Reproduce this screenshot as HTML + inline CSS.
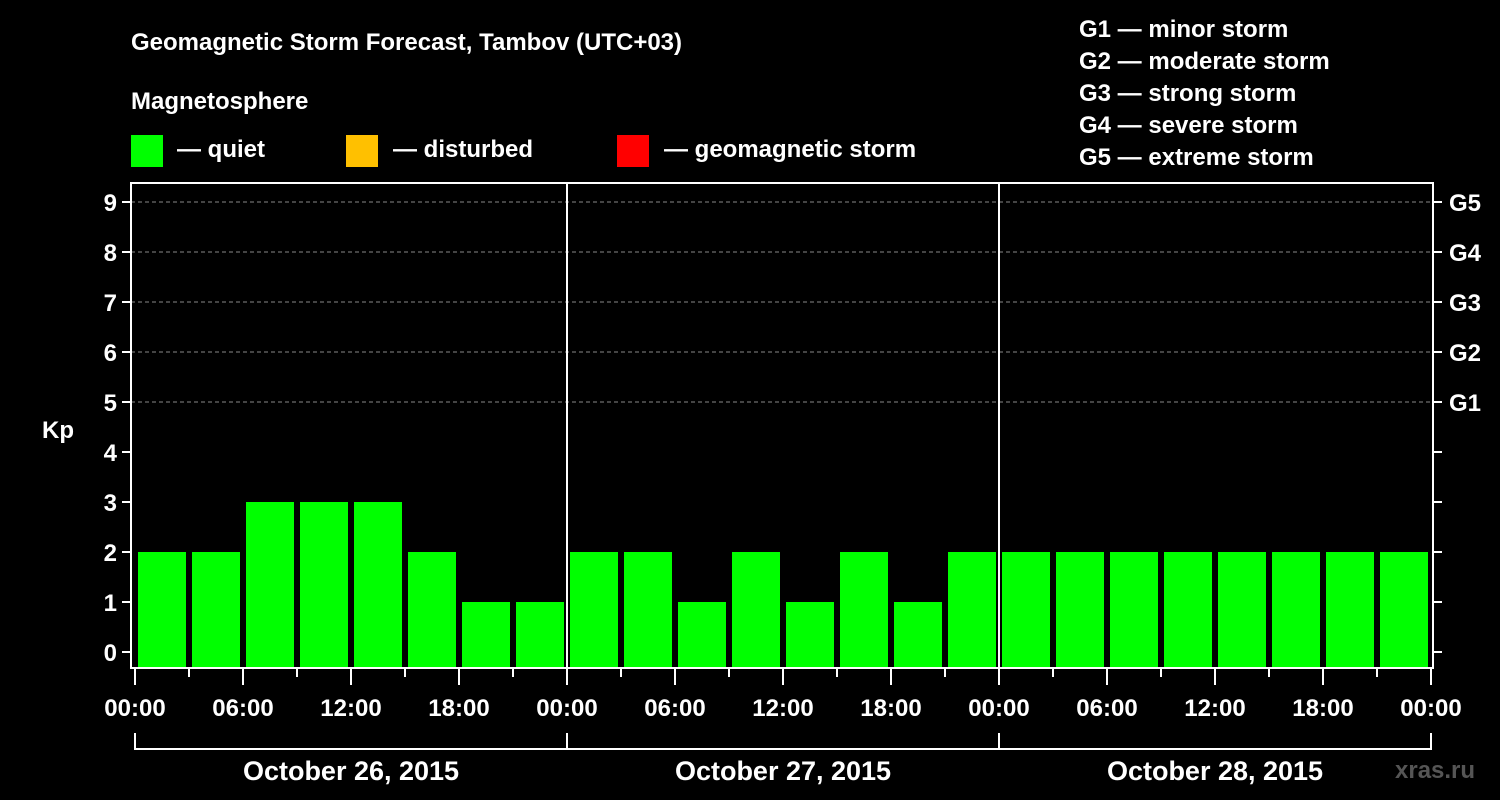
<!DOCTYPE html>
<html><head><meta charset="utf-8"><style>
html,body{margin:0;padding:0;background:#000;}
svg{display:block;font-family:"Liberation Sans",Arial,sans-serif;font-weight:bold;}
</style></head><body>
<svg id="chart" width="1500" height="800" viewBox="0 0 1500 800">
<rect width="1500" height="800" fill="#000"/>
<text x="131" y="50" fill="#fff" font-size="24">Geomagnetic Storm Forecast, Tambov (UTC+03)</text>
<text x="131" y="109" fill="#fff" font-size="24">Magnetosphere</text>
<g><rect x="131" y="135" width="32" height="32" fill="#00ff00"/><text x="177" y="157" fill="#fff" font-size="24">— quiet</text></g>
<g><rect x="346" y="135" width="32" height="32" fill="#ffc000"/><text x="393" y="157" fill="#fff" font-size="24">— disturbed</text></g>
<g><rect x="617" y="135" width="32" height="32" fill="#ff0000"/><text x="664" y="157" fill="#fff" font-size="24">— geomagnetic storm</text></g>
<g fill="#fff" font-size="24">
<text x="1079" y="37">G1 — minor storm</text>
<text x="1079" y="69">G2 — moderate storm</text>
<text x="1079" y="101">G3 — strong storm</text>
<text x="1079" y="133">G4 — severe storm</text>
<text x="1079" y="165">G5 — extreme storm</text>
</g>
<text x="42" y="438" fill="#fff" font-size="24">Kp</text>
<text x="1395" y="778" fill="#555" font-size="24">xras.ru</text>
<g id="grid"></g><g id="bars"></g><g id="axes"></g>
</svg>
<script>
const kpValues = [2,2,3,3,3,2,1,1, 2,2,1,2,1,2,1,2, 2,2,2,2,2,2,2,2];
const yTicks = [0,1,2,3,4,5,6,7,8,9];
const gLabels = ["G1","G2","G3","G4","G5"];
const hourLabels = ["00:00","06:00","12:00","18:00"];
const dayLabels = ["October 26, 2015","October 27, 2015","October 28, 2015"];

const NS="http://www.w3.org/2000/svg";
const X0=135, DAYW=432, HOURS=72;
const PL=131, PR=1433, PT=183, PB=668;
function xScale(h){return X0 + h*DAYW/24;}
function yScale(v){return 652 - v*50;}
function mk(tag,attrs,parent,txt){const e=document.createElementNS(NS,tag);for(const k in attrs)e.setAttribute(k,attrs[k]);if(txt!==undefined)e.textContent=txt;parent.appendChild(e);return e;}
const grid=document.getElementById('grid'), bars=document.getElementById('bars'), axes=document.getElementById('axes');

yTicks.forEach(v=>{
  if(v>=5){const l=mk('line',{x1:PL,x2:PR,y1:yScale(v),y2:yScale(v),stroke:'#888','stroke-width':1,'stroke-dasharray':'4,3'},grid);
  
  }
  const t=mk('line',{x1:PL-9,x2:PL,y1:yScale(v),y2:yScale(v),stroke:'#fff','stroke-width':2},axes);
  
  
  const tx=mk('text',{x:PL-14,y:yScale(v)+9,fill:'#fff','font-size':24,'text-anchor':'end'},axes,String(v));
  
  
  const rt=mk('line',{x1:PR,x2:PR+9,y1:yScale(v),y2:yScale(v),stroke:'#fff','stroke-width':2},axes);
  
  
  if(v>=5){const g=mk('text',{x:PR+16,y:yScale(v)+9,fill:'#fff','font-size':24},axes,gLabels[v-5]);
  
  }
});

kpValues.forEach((v,i)=>{
  const x0=xScale(i*3)+3, x1=xScale(i*3+3)-3;
  const r=mk('rect',{x:x0,y:yScale(v),width:x1-x0,height:PB-yScale(v),fill:v>=5?'#ff0000':(v>=4?'#ffc000':'#00ff00')},bars);
  
  
});

const frame=mk('rect',{x:PL,y:PT,width:PR-PL,height:PB-PT,fill:'none',stroke:'#fff','stroke-width':2},axes);


for(let d=1;d<3;d++){const l=mk('line',{x1:xScale(d*24),x2:xScale(d*24),y1:PT,y2:PB,stroke:'#fff','stroke-width':2},axes);
  
  }

for(let h=0;h<=HOURS;h+=3){
  const major=h%6===0;
  const t=mk('line',{x1:xScale(h),x2:xScale(h),y1:PB,y2:PB+(major?17:9),stroke:'#fff','stroke-width':2},axes);
  
  
  if(major){const tx=mk('text',{x:xScale(h),y:716,fill:'#fff','font-size':24,'text-anchor':'middle'},axes,hourLabels[(h%24)/6]);
    
    }
}
dayLabels.forEach((lab,d)=>{
  const a=xScale(d*24), b=xScale(d*24+24);
  const p=mk('path',{d:`M${a},733 V749 H${b} V733`,fill:'none',stroke:'#fff','stroke-width':2},axes);
  
  
  const t=mk('text',{x:(a+b)/2,y:780,fill:'#fff','font-size':27,'text-anchor':'middle'},axes,lab);
  
  
});
</script>
</body></html>
